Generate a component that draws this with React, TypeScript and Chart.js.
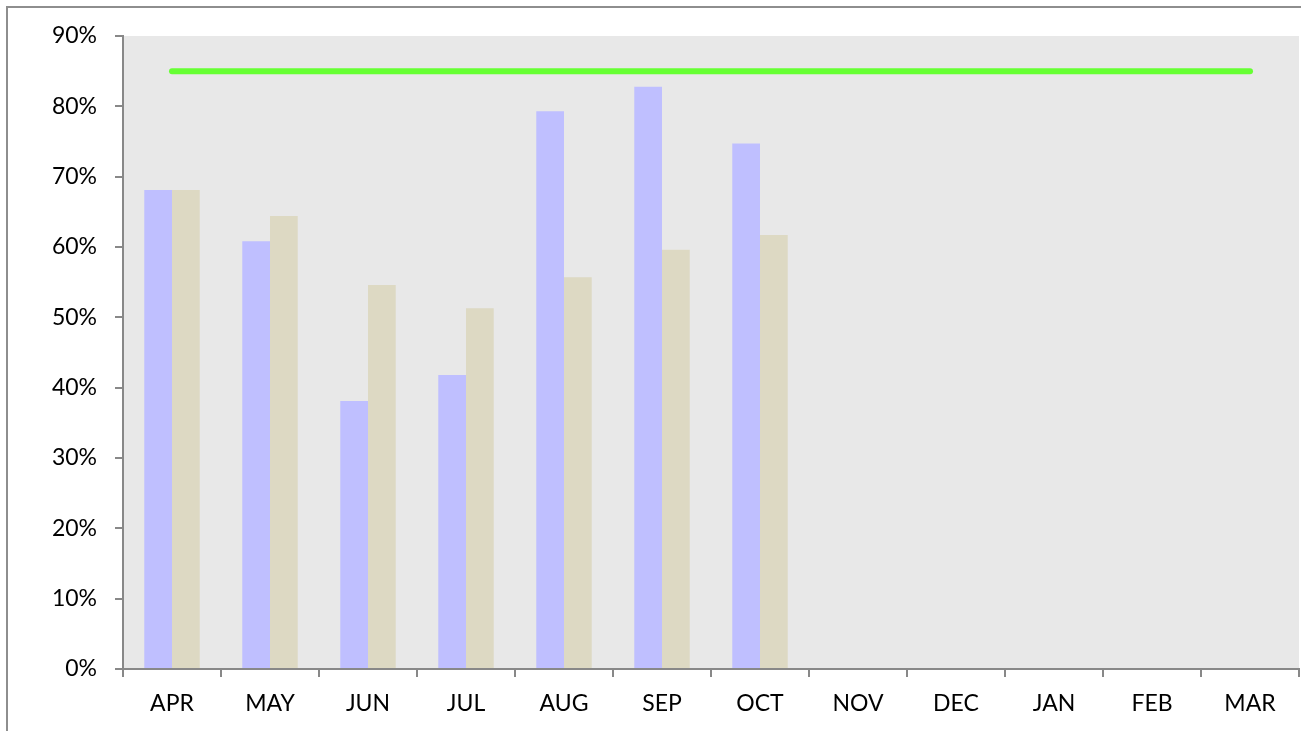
import React, { useEffect, useRef } from "react";
import { Chart, registerables } from "chart.js";

Chart.register(...registerables);

const months = ["APR", "MAY", "JUN", "JUL", "AUG", "SEP", "OCT", "NOV", "DEC", "JAN", "FEB", "MAR"];
const seriesA = [68.1, 60.8, 38.1, 41.8, 79.3, 82.8, 74.7, null, null, null, null, null];
const seriesB = [68.1, 64.4, 54.6, 51.3, 55.7, 59.6, 61.7, null, null, null, null, null];
const target = [85, 85, 85, 85, 85, 85, 85, 85, 85, 85, 85, 85];
const yTicks = [0, 10, 20, 30, 40, 50, 60, 70, 80, 90];

const plotBg = {
  id: "plotBg",
  beforeDraw(chart: any) {
    const { ctx, chartArea } = chart;
    if (!chartArea) return;
    ctx.save();
    ctx.fillStyle = "#E8E8E8";
    ctx.fillRect(chartArea.left, chartArea.top, chartArea.right - chartArea.left, chartArea.bottom - chartArea.top);
    ctx.restore();
  },
};

export default function App() {
  const ref = useRef<HTMLCanvasElement | null>(null);
  useEffect(() => {
    if (!ref.current) return;
    const font = { family: "Lato", size: 23 };
    const chart = new Chart(ref.current, {
      type: "bar",
      data: {
        labels: months,
        datasets: [
          {
            type: "line",
            label: "Target",
            data: target,
            borderColor: "#66FF33",
            backgroundColor: "#66FF33",
            borderWidth: 6,
            borderCapStyle: "round",
            pointRadius: 0,
            order: 0,
          } as any,
          {
            label: "A",
            data: seriesA,
            backgroundColor: "#BFBFFF",
            categoryPercentage: 0.566,
            barPercentage: 1,
            order: 1,
          },
          {
            label: "B",
            data: seriesB,
            backgroundColor: "#DDD9C3",
            categoryPercentage: 0.566,
            barPercentage: 1,
            order: 1,
          },
        ],
      },
      options: {
        animation: false,
        responsive: false,
        maintainAspectRatio: false,
        layout: { padding: { top: 36, right: 2, left: 0, bottom: 0 } },
        plugins: { legend: { display: false }, tooltip: { enabled: false } },
        scales: {
          x: {
            grid: {
              offset: true,
              drawOnChartArea: false,
              drawTicks: true,
              tickLength: 8,
              color: "#888888",
              lineWidth: 2,
            },
            border: { display: true, color: "#888888", width: 2 },
            ticks: { color: "#000", font, padding: 13, maxRotation: 0, autoSkip: false },
            afterFit(scale: any) {
              scale.height = 62;
            },
          },
          y: {
            min: 0,
            max: 90,
            afterBuildTicks(scale: any) {
              scale.ticks = yTicks.map((v) => ({ value: v }));
            },
            grid: {
              drawOnChartArea: false,
              drawTicks: true,
              tickLength: 8,
              color: "#888888",
              lineWidth: 2,
            },
            border: { display: true, color: "#888888", width: 2 },
            ticks: {
              color: "#000",
              font,
              padding: 18,
              callback: (v: any) => v + "%",
            },
            afterFit(scale: any) {
              scale.width = 123;
            },
          },
        },
      },
      plugins: [plotBg],
    });
    return () => chart.destroy();
  }, []);

  return (
    <div style={{ position: "fixed", left: 0, top: 0, width: 1301, height: 731, overflow: "hidden", background: "#fff" }}>
      <div
        style={{
          position: "absolute",
          left: 6,
          top: 6,
          width: 1400,
          height: 1000,
          borderTop: "2px solid #8E8E8E",
          borderLeft: "2px solid #8E8E8E",
          boxSizing: "border-box",
        }}
      />
      <canvas ref={ref} width={1301} height={731} style={{ position: "absolute", left: 0, top: 0 }} />
    </div>
  );
}
